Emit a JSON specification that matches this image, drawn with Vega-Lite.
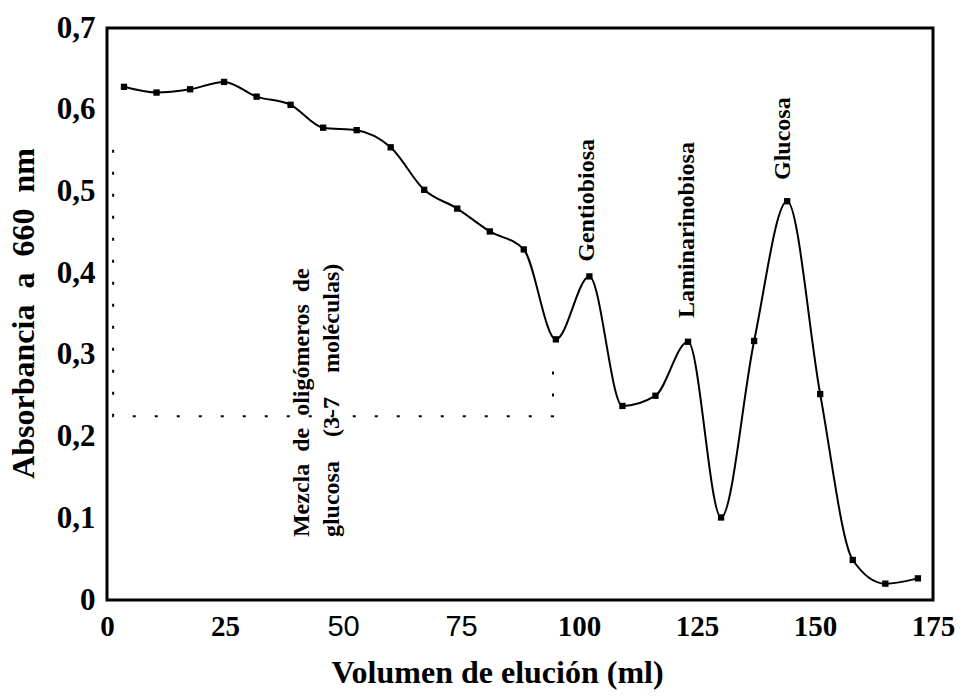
{
  "$schema": "https://vega.github.io/schema/vega-lite/v6.json",
  "width": 826,
  "height": 572,
  "autosize": "none",
  "padding": {"left": 107, "top": 28, "right": 30, "bottom": 98},
  "background": "white",
  "config": {
    "font": "Liberation Serif",
    "view": {"stroke": "black", "strokeWidth": 3},
    "axis": {"grid": false, "ticks": false, "domain": false, "labelColor": "black", "titleColor": "black"}
  },
  "datasets": {
    "curve": [
      {"vol": 3.6, "abs": 0.628},
      {"vol": 10.5, "abs": 0.621},
      {"vol": 17.6, "abs": 0.625},
      {"vol": 24.8, "abs": 0.634},
      {"vol": 31.7, "abs": 0.616},
      {"vol": 38.9, "abs": 0.606},
      {"vol": 45.8, "abs": 0.578},
      {"vol": 52.9, "abs": 0.575},
      {"vol": 60.1, "abs": 0.554},
      {"vol": 67.2, "abs": 0.502},
      {"vol": 74.2, "abs": 0.479},
      {"vol": 81.1, "abs": 0.451},
      {"vol": 88.3, "abs": 0.429},
      {"vol": 95.1, "abs": 0.319},
      {"vol": 102.2, "abs": 0.396},
      {"vol": 109.2, "abs": 0.2375},
      {"vol": 116.2, "abs": 0.25},
      {"vol": 123.1, "abs": 0.316},
      {"vol": 130.1, "abs": 0.101},
      {"vol": 137.1, "abs": 0.317},
      {"vol": 144.1, "abs": 0.488},
      {"vol": 151.1, "abs": 0.252},
      {"vol": 158.0, "abs": 0.049},
      {"vol": 164.9, "abs": 0.02},
      {"vol": 171.8, "abs": 0.0265}
    ],
    "guide": [
      {"vol": 1.3, "abs": 0.551, "step": 1},
      {"vol": 1.3, "abs": 0.225, "step": 2},
      {"vol": 94.5, "abs": 0.225, "step": 3},
      {"vol": 94.5, "abs": 0.291, "step": 4}
    ],
    "notes": [
      {"vol": 101.7, "abs": 0.414, "label": "Gentiobiosa"},
      {"vol": 122.9, "abs": 0.345, "label": "Laminarinobiosa"},
      {"vol": 143.2, "abs": 0.514, "label": "Glucosa"},
      {"vol": 41.3, "abs": 0.077, "label": "Mezcla\u00a0\u00a0de\u00a0\u00a0oligómeros\u00a0\u00a0de"},
      {"vol": 47.7, "abs": 0.077, "label": "glucosa\u00a0\u00a0\u00a0\u00a0(3-7\u00a0\u00a0\u00a0\u00a0moléculas)"}
    ]
  },
  "layer": [
    {
      "data": {"name": "curve"},
      "mark": {"type": "line", "color": "black", "strokeWidth": 2, "interpolate": "monotone"},
      "encoding": {
        "x": {
          "field": "vol", "type": "quantitative",
          "scale": {"domain": [0, 175], "nice": false, "zero": false},
          "axis": {
            "values": [0, 25, 50, 75, 100, 125, 150, 175],
            "labelFont": {"condition": {"test": "datum.value == 50 || datum.value == 75", "value": "Liberation Sans"}, "value": "Liberation Serif"},
            "labelFontWeight": {"condition": {"test": "datum.value == 50 || datum.value == 75", "value": "normal"}, "value": "bold"},
            "labelFontSize": 29,
            "labelPadding": 12,
            "labelFlush": false,
            "labelOverlap": false,
            "title": "Volumen de elución (ml)",
            "titleFont": "Liberation Serif",
            "titleFontWeight": "bold",
            "titleFontSize": 32,
            "titleX": 390,
            "titleY": 82,
            "titleAlign": "center",
            "titleBaseline": "alphabetic",
            "titleAnchor": "start"
          }
        },
        "y": {
          "field": "abs", "type": "quantitative",
          "scale": {"domain": [0, 0.7], "nice": false},
          "axis": {
            "values": [0, 0.1, 0.2, 0.3, 0.4, 0.5, 0.6, 0.7],
            "labelExpr": "datum.value == 0 ? '0' : replace(format(datum.value, '.1f'), '.', ',')",
            "labelFont": "Liberation Serif",
            "labelFontWeight": "bold",
            "labelFontSize": 31,
            "labelPadding": 12,
            "labelFlush": false,
            "labelOverlap": false,
            "title": "Absorbancia\u00a0\u00a0a\u00a0\u00a0660\u00a0\u00a0nm",
            "titleFont": "Liberation Serif",
            "titleFontWeight": "bold",
            "titleFontSize": 32,
            "titleX": -84,
            "titleY": 285,
            "titleAngle": -90,
            "titleAlign": "center",
            "titleBaseline": "middle",
            "titleAnchor": "start"
          }
        }
      }
    },
    {
      "data": {"name": "guide"},
      "mark": {"type": "line", "color": "black", "strokeWidth": 2, "strokeDash": [3, 19]},
      "encoding": {
        "x": {"field": "vol", "type": "quantitative"},
        "y": {"field": "abs", "type": "quantitative"},
        "order": {"field": "step"}
      }
    },
    {
      "data": {"name": "curve"},
      "mark": {"type": "square", "filled": true, "color": "black", "size": 40, "opacity": 1},
      "encoding": {
        "x": {"field": "vol", "type": "quantitative"},
        "y": {"field": "abs", "type": "quantitative"}
      }
    },
    {
      "data": {"name": "notes"},
      "mark": {"type": "text", "angle": 270, "align": "left", "baseline": "middle", "font": "Liberation Serif", "fontWeight": "bold", "fontSize": 24, "color": "black"},
      "encoding": {
        "x": {"field": "vol", "type": "quantitative"},
        "y": {"field": "abs", "type": "quantitative"},
        "text": {"field": "label"}
      }
    }
  ]
}
